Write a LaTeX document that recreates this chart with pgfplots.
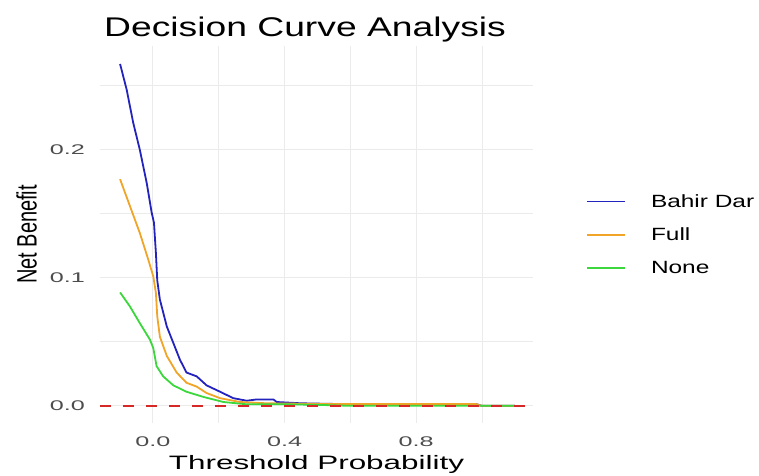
\documentclass[border=0pt]{standalone}
\usepackage{fontspec}
\setmainfont{Liberation Sans}
\usepackage{pgfplots}
\pgfplotsset{compat=1.18}

\definecolor{cBlue}{RGB}{35,35,190}
\definecolor{cOrange}{RGB}{240,165,40}
\definecolor{cGreen}{RGB}{60,215,60}
\definecolor{cRed}{RGB}{215,40,40}
\definecolor{gridgray}{RGB}{235,235,235}
\definecolor{tickgray}{RGB}{77,77,77}

\begin{document}
\begin{tikzpicture}
\useasboundingbox (-100pt,-52pt) rectangle (659pt,423pt);
\begin{axis}[
  scale only axis, width=433pt, height=377pt,
  xmin=-0.161, xmax=1.155, ymin=-0.0134, ymax=0.281,
  axis line style={draw=none},
  major tick length=0pt, minor tick length=0pt,
  xtick={0,0.4,0.8}, minor xtick={0.2,0.6,1.0},
  ytick={0,0.1,0.2}, minor ytick={0.05,0.15,0.25},
  grid=both,
  major grid style={color=gridgray, line width=1pt},
  minor grid style={color=gridgray, line width=0.8pt},
  /pgf/number format/.cd, fixed, fixed zerofill, precision=1, assume math mode=true, /pgfplots/.cd,
  xticklabel={\scalebox{1.8}[1]{\pgfmathprintnumber{\tick}}},
  yticklabel={\scalebox{1.8}[1]{\pgfmathprintnumber{\tick}}},
  tick label style={font=\fontsize{14}{16}\selectfont, text=tickgray, inner sep=0pt},
  x tick label style={anchor=north, yshift=-14pt},
  y tick label style={anchor=east, xshift=-15pt},
  title={\scalebox{1.38}[1]{Decision Curve Analysis}},
  every axis title/.style={at={(axis description cs:0.0092,1.0265)}, anchor=base west, inner sep=0pt,
    font=\fontsize{27}{31}\selectfont},
  xlabel={\scalebox{1.62}[1]{Threshold Probability}},
  every axis x label/.style={at={(axis description cs:0.5,-0.124)}, anchor=base, inner sep=0pt,
    font=\fontsize{19.4}{22}\selectfont},
  ylabel={\scalebox{1}[1.4]{Net Benefit}},
  every axis y label/.style={at={(axis description cs:-0.1455,0.5)}, rotate=90, anchor=south,
    inner sep=0pt, font=\fontsize{20}{22}\selectfont},
  legend style={at={(axis description cs:1.1224,0.5)}, anchor=west, draw=none, fill=none,
    inner sep=0pt, row sep=19pt, column sep=25pt,
    font=\fontsize{17.7}{20}\selectfont, nodes={inner sep=0pt}},
  legend cell align={left},
  legend image code/.code={\draw[line width=1.8pt,#1] (0pt,0pt) -- (38pt,0pt); \path (0pt,-3.5pt);},
]
\addplot[cBlue, line width=1.8pt] coordinates {
  (-0.100,0.267) (-0.080,0.247) (-0.060,0.221) (-0.040,0.200) (-0.019,0.174)
  (-0.004,0.151) (0.003,0.143) (0.009,0.119) (0.013,0.098) (0.021,0.083)
  (0.042,0.062) (0.062,0.049) (0.082,0.036) (0.102,0.026) (0.133,0.023)
  (0.163,0.016) (0.204,0.011) (0.244,0.006) (0.285,0.004) (0.315,0.005)
  (0.366,0.005) (0.376,0.003) (0.450,0.002) (0.550,0.0015) (0.980,0.0015)
  (1.000,0.000) (1.100,0.000)
};
\addlegendentry{\scalebox{1.38}[1]{Bahir Dar}}
\addplot[cOrange, line width=1.8pt] coordinates {
  (-0.100,0.177) (-0.070,0.156) (-0.040,0.135) (-0.014,0.114) (0.001,0.101)
  (0.009,0.088) (0.013,0.070) (0.021,0.054) (0.042,0.039) (0.072,0.026)
  (0.102,0.018) (0.133,0.015) (0.163,0.010) (0.204,0.006) (0.264,0.003)
  (0.345,0.002) (0.500,0.0015) (0.980,0.0015) (1.000,0.000) (1.100,0.000)
};
\addlegendentry{\scalebox{1.38}[1]{Full}}
\addplot[cGreen, line width=1.8pt] coordinates {
  (-0.100,0.0886) (-0.070,0.0776) (-0.040,0.0646) (-0.009,0.0516) (0.001,0.045)
  (0.011,0.031) (0.031,0.023) (0.062,0.016) (0.102,0.011) (0.153,0.007)
  (0.214,0.003) (0.285,0.0012) (0.400,0.0012) (0.500,0.0008) (0.600,0.000)
  (1.100,0.000)
};
\addlegendentry{\scalebox{1.38}[1]{None}}
\addplot[cRed, line width=2pt, dash pattern=on 11pt off 12pt, forget plot] coordinates {
  (-0.161,0) (1.150,0)
};
\end{axis}
\end{tikzpicture}
\end{document}
